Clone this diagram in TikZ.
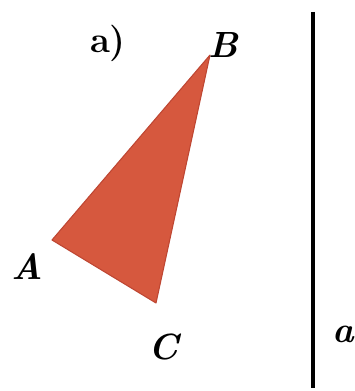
\documentclass[tikz,border=0pt]{standalone}
\usepackage{tikz}
\usetikzlibrary{positioning}

\begin{document}
\begin{tikzpicture}[x=0.02cm,y=-0.02cm,
    lbl/.style={font=\huge\bfseries\itshape,inner sep=0pt},
    tri/.style={fill={rgb,255:red,214;green,88;blue,62},draw={rgb,255:red,190;green,70;blue,50},line width=0.6pt,line join=round}]
  \useasboundingbox (0,0) rectangle (354,391);
  \coordinate (B) at (210,55);
  \coordinate (A) at (52,240);
  \coordinate (C) at (156,303);
  \coordinate (at) at (313,12);
  \coordinate (ab) at (313,388);
  \filldraw[tri] (A) -- (B) -- (C) -- cycle;
  \draw[line width=2pt] (at) -- (ab);
  \node[lbl] (lB) at (223,45) {B};
  \node[lbl] (lA) at (27,267) {A};
  \node[lbl] (lC) at (164,347) {C};
  \node[lbl] (la) at (343,334) {a};
  \node[font=\huge\bfseries,inner sep=0pt] (title) at (108,43) {a)};
\end{tikzpicture}
\end{document}
